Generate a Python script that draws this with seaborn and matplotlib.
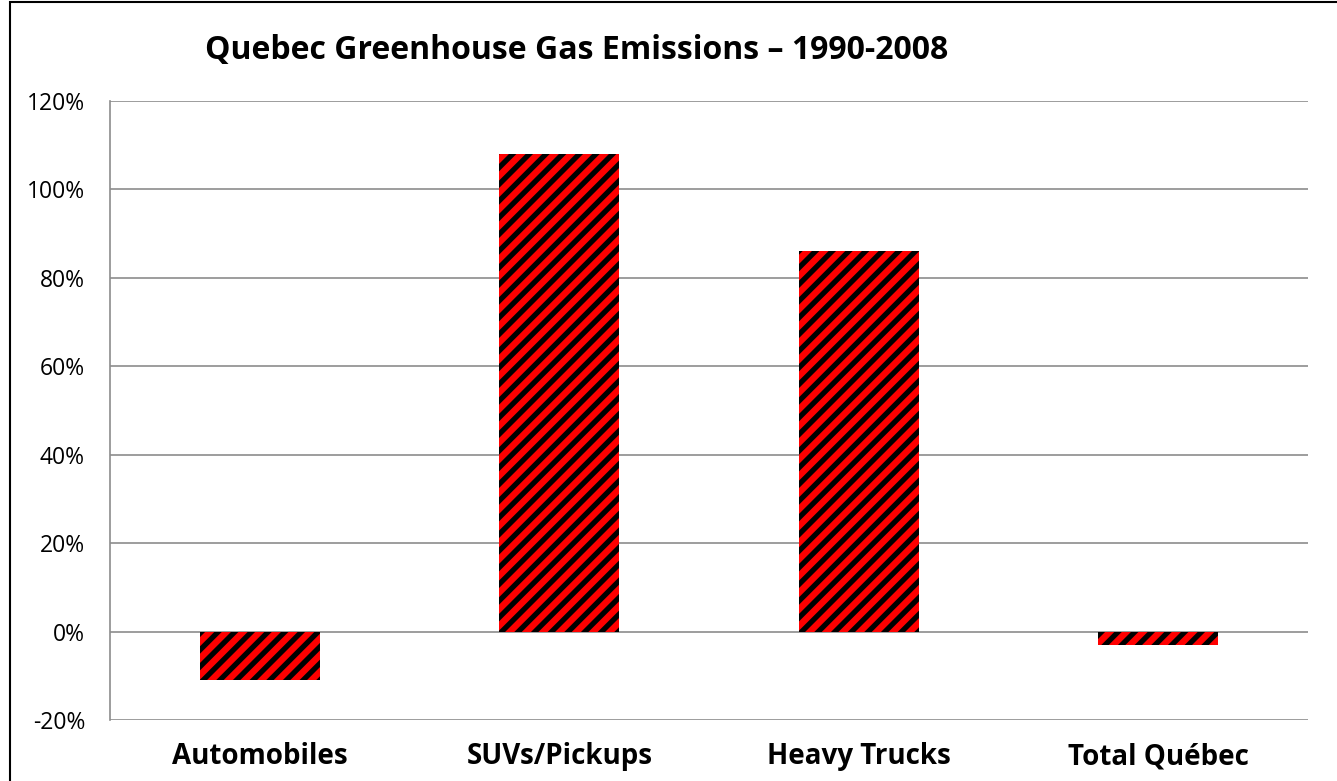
import matplotlib
matplotlib.use("Agg")
import matplotlib.pyplot as plt
import seaborn as sns
import pandas as pd
from matplotlib.patches import Rectangle
from matplotlib.ticker import FuncFormatter

categories = ["Automobiles", "SUVs/Pickups", "Heavy Trucks", "Total Québec"]
values = [-11, 108, 86, -3]
yticks = [-20, 0, 20, 40, 60, 80, 100, 120]
title = "Quebec Greenhouse Gas Emissions – 1990-2008"

sns.set_theme(style="white")
plt.rcParams["font.family"] = ["Open Sans", "DejaVu Sans"]
plt.rcParams["text.color"] = "black"
plt.rcParams["hatch.linewidth"] = 3.8
plt.rcParams["hatch.color"] = "black"

df = pd.DataFrame({"cat": categories, "val": values})

fig = plt.figure(figsize=(13.37, 7.81), dpi=100)
ax = fig.add_axes([110 / 1337, 1 - 720 / 781, (1308 - 110) / 1337, (720 - 101) / 781])

sns.barplot(data=df, x="cat", y="val", ax=ax, color="#FF0000", width=0.4,
            saturation=1, edgecolor="none", linewidth=0, zorder=3)
for p in ax.patches:
    p.set_hatch("//")
    p.set_edgecolor("black")
    p.set_linewidth(0)

ax.set_ylim(-20, 120)
ax.set_xlim(-0.5, 3.5)
ax.set_yticks(yticks)
ax.yaxis.set_major_formatter(FuncFormatter(lambda v, _: f"{int(v)}%"))
ax.yaxis.grid(True, color="#8c8c8c", linewidth=1.2)
for l in ax.get_ygridlines():
    l.set_zorder(4)
ax.set_xlabel("")
ax.set_ylabel("")
for s in ["top", "right", "bottom"]:
    ax.spines[s].set_visible(False)
ax.spines["left"].set_color("#8c8c8c")
ax.spines["left"].set_linewidth(1.2)
ax.tick_params(axis="y", labelsize=16.5, length=0, pad=18, colors="black")
ax.tick_params(axis="x", labelsize=20, length=0, pad=16, colors="black")
for t in ax.get_xticklabels():
    t.set_fontweight("bold")

fig.text(205 / 1337, 1 - 51 / 781, title, fontsize=23, fontweight="bold",
         color="black", ha="left", va="center")

fig.patches.append(Rectangle((10 / 1337, -0.05), 1.0, 1 - 2 / 781 + 0.05,
                             transform=fig.transFigure, fill=False,
                             edgecolor="black", linewidth=1.5))

fig.savefig("out.png", dpi=100)
